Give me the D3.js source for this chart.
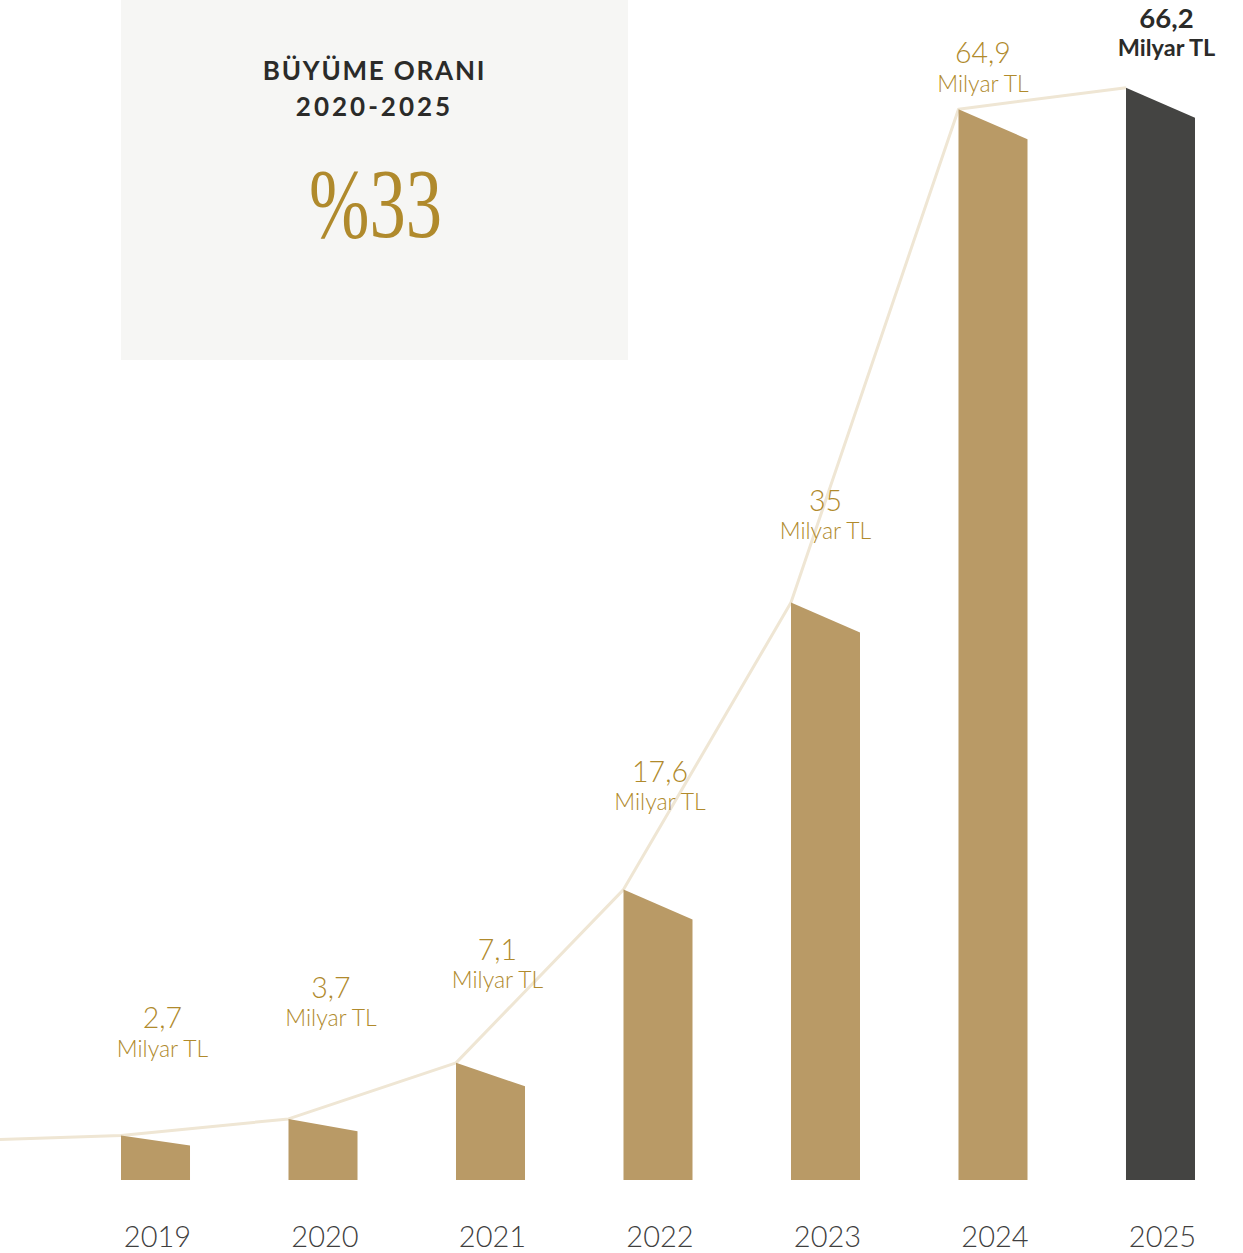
<!DOCTYPE html>
<html>
<head>
<meta charset="utf-8">
<script src="https://cdn.jsdelivr.net/npm/d3@7"></script>
<style>
  html, body { margin: 0; padding: 0; background: #ffffff; }
  svg { display: block; }
</style>
</head>
<body>
<svg id="chart" width="1243" height="1253"></svg>
<script>
// ---- data ----
const years = ["2019", "2020", "2021", "2022", "2023", "2024", "2025"];
const values = [2.7, 3.7, 7.1, 17.6, 35, 64.9, 66.2];
const valueLabels = ["2,7", "3,7", "7,1", "17,6", "35", "64,9", "66,2"];
const unitLabel = "Milyar TL";
const leadInValue = 2.45;           // where the trend line enters from the left edge
const highlightYear = "2025";
const growthTitle = ["BÜYÜME ORANI", "2020-2025"];
const growthValue = "%33";

// ---- layout (not data) ----
const labelDx   = [7, 8, 7, 2, 0, -10, 6];
const labelLift = [107, 121, 103, 108, 92, 46, 60];

const baseY = 1180;
const svg = d3.select("#chart");

const x = d3.scaleBand().domain(years).range([121, 1195]).paddingInner(0.588).paddingOuter(0);
const y = d3.scaleLinear().domain([0, baseY / 16.5]).range([baseY, 0]);

const gold = "#b99a66", dark = "#444442", lineCol = "#efe6d4", textGold = "#b08a2c";
const sans = "Lato, 'Open Sans', sans-serif";

// growth box
svg.append("rect").attr("x", 121).attr("y", 0).attr("width", 507).attr("height", 360).attr("fill", "#f6f6f4");
svg.append("text").attr("x", 374.5).attr("y", 80).attr("text-anchor", "middle")
  .attr("font-family", sans).attr("font-weight", 700)
  .attr("font-size", 26).attr("letter-spacing", 1.8).attr("fill", "#2b2b29").text(growthTitle[0]);
svg.append("text").attr("x", 374.5).attr("y", 115.5).attr("text-anchor", "middle")
  .attr("font-family", sans).attr("font-weight", 700)
  .attr("font-size", 26).attr("letter-spacing", 3).attr("fill", "#2b2b29").text(growthTitle[1]);
svg.append("text").attr("x", 309).attr("y", 237)
  .attr("font-family", "'Liberation Serif', 'DejaVu Serif', serif")
  .attr("font-size", 100).attr("fill", textGold)
  .attr("textLength", 133).attr("lengthAdjust", "spacingAndGlyphs")
  .text(growthValue);

// trend line through top-left corners of bars
const linePts = [[0, y(leadInValue)]].concat(years.map((yr, i) => [x(yr), y(values[i])]));
svg.append("path").attr("d", d3.line()(linePts))
  .attr("fill", "none").attr("stroke", lineCol).attr("stroke-width", 3).attr("stroke-linejoin", "round");

// bars with slanted tops
const bw = x.bandwidth();
svg.selectAll("path.bar").data(years).join("path").attr("class", "bar")
  .attr("d", (yr, i) => {
    const x0 = x(yr), top = y(values[i]);
    const h = baseY - top;
    const drop = Math.max(10, Math.min(30, h * 0.2));
    return `M${x0},${baseY}L${x0},${top}L${x0 + bw},${top + drop}L${x0 + bw},${baseY}Z`;
  })
  .attr("fill", yr => yr === highlightYear ? dark : gold);

// value labels
years.forEach((yr, i) => {
  const hl = yr === highlightYear;
  const cx = x(yr) + bw / 2 + labelDx[i];
  const by = y(values[i]) - labelLift[i];
  svg.append("text").attr("x", cx).attr("y", by).attr("text-anchor", "middle")
    .attr("font-family", sans)
    .attr("font-weight", hl ? 700 : 300).attr("font-size", hl ? 27.5 : 28.5)
    .attr("fill", hl ? "#2b2b29" : textGold).text(valueLabels[i]);
  svg.append("text").attr("x", cx).attr("y", by + 28.5).attr("text-anchor", "middle")
    .attr("font-family", sans)
    .attr("font-weight", hl ? 700 : 300).attr("font-size", hl ? 23.5 : 23)
    .attr("fill", hl ? "#2b2b29" : textGold).text(unitLabel);
});

// x axis labels
const axis = d3.axisBottom(x).tickSize(0).tickPadding(0);
const ax = svg.append("g").attr("transform", `translate(0,${1225})`).call(axis);
ax.select(".domain").remove();
ax.selectAll("text").attr("font-family", sans).attr("font-weight", 300)
  .attr("font-size", 29).attr("fill", "#3f3f3f").attr("dy", 0).attr("y", 22)
  .attr("dx", 2);
</script>
</body>
</html>
